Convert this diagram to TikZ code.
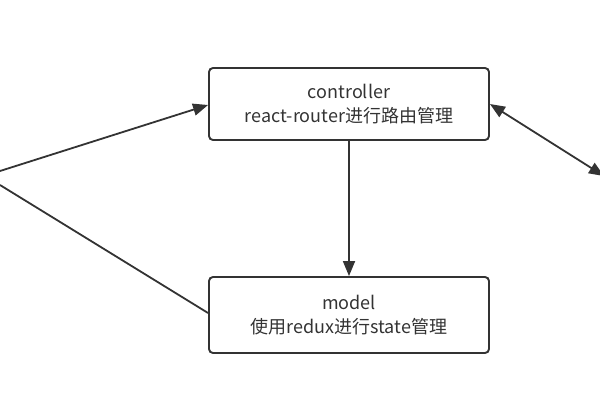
\documentclass[tikz,border=0pt]{standalone}
\usepackage{fontspec}
\setmainfont{Noto Sans CJK SC}
\usetikzlibrary{arrows.meta}
\definecolor{ln}{HTML}{333333}
\begin{document}
\begin{tikzpicture}[x=1pt,y=-1pt,
  box/.style={draw=ln,line width=1.9pt,rounded corners=4pt,minimum width=280pt,text=ln,font=\fontsize{18pt}{24pt}\selectfont,align=center,inner sep=0pt},
  conn/.style={draw=ln,line width=1.8pt},
  tip/.style={-{Triangle[length=15pt,width=12pt]}}]
\useasboundingbox (0,0) rectangle (600,400);
\node[box,minimum height=72pt] (c) at (349,104) {controller\\react-router进行路由管理};
\node[box,minimum height=76pt] (m) at (349,315) {\raisebox{-2pt}{\parbox{270pt}{\centering model\\使用redux进行state管理}}};
\coordinate (l1) at (0,171);
\coordinate (l2) at (0,185);
\coordinate (r) at (604,176);
\draw[conn,tip] (l1) -- (c.west |- 0,105);
\draw[conn] (l2) -- (m.west |- 0,313);
\draw[conn,tip] (c.south) -- (m.north);
\draw[conn,{Triangle[length=15pt,width=12pt]}-{Triangle[length=15pt,width=12pt]}] (c.east |- 0,104) -- (r);
\end{tikzpicture}
\end{document}
